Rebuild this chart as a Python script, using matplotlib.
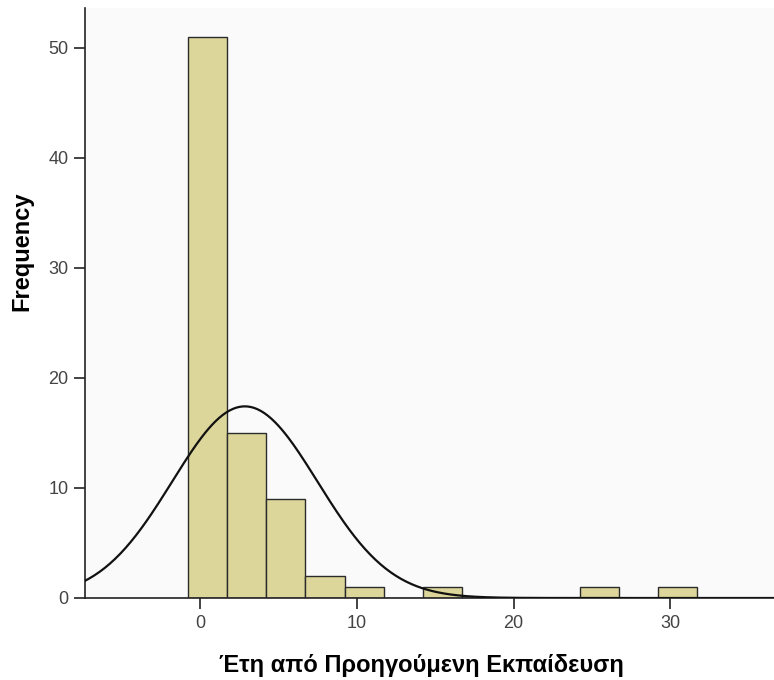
import numpy as np
import matplotlib
matplotlib.use('Agg')
from matplotlib import pyplot as plt

# histogram bins (years) and counts
bin_start = -0.78
bin_width = 2.5
counts = [51, 15, 9, 2, 1, 0, 1, 0, 0, 0, 1, 0, 1]

# normal curve parameters
n_total = sum(counts)
mean = 2.86
sd = 4.64

plt.rcParams['font.family'] = ['Liberation Sans', 'DejaVu Sans']

fig = plt.figure(figsize=(7.74, 6.8), dpi=100)
ax = fig.add_axes([85 / 774, 82 / 680, 689 / 774, 590 / 680])
ax.set_facecolor('#fafafa')

edges = bin_start + bin_width * np.arange(len(counts) + 1)
ax.bar(edges[:-1], counts, width=bin_width, align='edge',
       color='#dcd69a', edgecolor='#2b2b2b', linewidth=1.0, zorder=2)

xs = np.linspace(-7.4, 36.7, 400)
ys = n_total * bin_width / (sd * np.sqrt(2 * np.pi)) * np.exp(-0.5 * ((xs - mean) / sd) ** 2)
ax.plot(xs, ys, color='#111111', linewidth=1.6, zorder=3)

ax.set_xlim(-7.33, 36.6)
ax.set_ylim(0, 53.6)
ax.set_xticks([0, 10, 20, 30])
ax.set_yticks([0, 10, 20, 30, 40, 50])

for s in ['top', 'right']:
    ax.spines[s].set_visible(False)
for s in ['left', 'bottom']:
    ax.spines[s].set_linewidth(1.2)
    ax.spines[s].set_color('#222222')

ax.tick_params(direction='out', length=8, width=1.2, color='#222222',
               labelsize=13, labelcolor='#444444', pad=4)

ax.set_xlabel('Έτη από Προηγούμενη Εκπαίδευση', fontsize=17, fontweight='bold',
              va='center')
ax.set_ylabel('Frequency', fontsize=17, fontweight='bold', va='center')
ax.xaxis.set_label_coords(0.488, -0.114)
ax.yaxis.set_label_coords(-0.091, 0.588)

fig.savefig('out.png', dpi=100)
